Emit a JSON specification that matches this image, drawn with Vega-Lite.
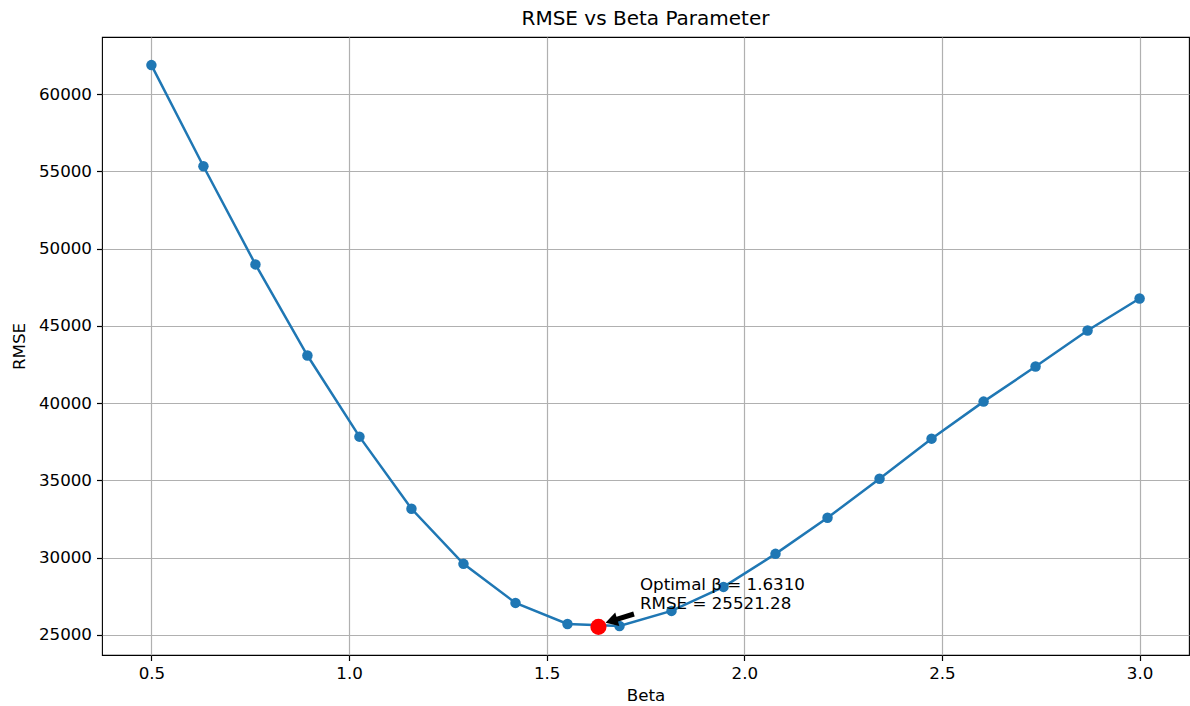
{
  "$schema": "https://vega.github.io/schema/vega-lite/v6.json",
  "width": 1087,
  "height": 618,
  "autosize": {"type": "none"},
  "padding": {"left": 102, "top": 37, "right": 1, "bottom": 51},
  "background": "white",
  "title": {"text": "RMSE vs Beta Parameter", "fontSize": 20, "fontWeight": "normal", "font": "DejaVu Sans", "color": "#000", "offset": 8},
  "config": {
    "view": {"stroke": "#000", "strokeWidth": 1.1},
    "axis": {
      "domain": false,
      "labelFont": "DejaVu Sans", "labelFontSize": 16.7, "labelColor": "#000",
      "titleFont": "DejaVu Sans", "titleFontSize": 16.7, "titleFontWeight": "normal", "titleColor": "#000",
      "tickColor": "#000", "tickSize": 5.5, "tickWidth": 1.2, "labelPadding": 5,
      "gridColor": "#b0b0b0", "gridWidth": 1.2, "gridOpacity": 1
    }
  },
  "datasets": {
    "curve": [
      {"x": 0.5, "y": 61881},
      {"x": 0.6316, "y": 55334},
      {"x": 0.7632, "y": 48982},
      {"x": 0.8947, "y": 43084},
      {"x": 1.0263, "y": 37834},
      {"x": 1.1579, "y": 33167},
      {"x": 1.2895, "y": 29602},
      {"x": 1.4211, "y": 27074},
      {"x": 1.5526, "y": 25713},
      {"x": 1.6842, "y": 25583},
      {"x": 1.8158, "y": 26556},
      {"x": 1.9474, "y": 28111},
      {"x": 2.0789, "y": 30250},
      {"x": 2.2105, "y": 32583},
      {"x": 2.3421, "y": 35111},
      {"x": 2.4737, "y": 37704},
      {"x": 2.6053, "y": 40102},
      {"x": 2.7368, "y": 42371},
      {"x": 2.8684, "y": 44704},
      {"x": 3.0, "y": 46778}
    ],
    "best": [{"x": 1.631, "y": 25521.28}],
    "arrow": [{"x": 1.7208, "y": 26356, "x2": 1.6687, "y2": 25942}],
    "head": [{"x": 1.6687, "y": 25942}],
    "annot": [
      {"x": 1.736, "y": 28233, "label": "Optimal β = 1.6310"},
      {"x": 1.736, "y": 27004, "label": "RMSE = 25521.28"}
    ]
  },
  "encoding": {
    "x": {
      "field": "x", "type": "quantitative",
      "scale": {"domain": [0.375, 3.125], "nice": false, "zero": false},
      "axis": {"values": [0.5, 1.0, 1.5, 2.0, 2.5, 3.0], "format": ".1f", "title": "Beta", "titlePadding": 5}
    },
    "y": {
      "field": "y", "type": "quantitative",
      "scale": {"domain": [23703, 63699], "nice": false, "zero": false},
      "axis": {"values": [25000, 30000, 35000, 40000, 45000, 50000, 55000, 60000], "format": "d", "title": "RMSE", "titlePadding": 10}
    }
  },
  "layer": [
    {"data": {"name": "curve"}, "mark": {"type": "line", "color": "#1f77b4", "strokeWidth": 2.5}},
    {"data": {"name": "curve"}, "mark": {"type": "point", "filled": true, "color": "#1f77b4", "opacity": 1, "size": 110}},
    {"data": {"name": "best"}, "mark": {"type": "point", "filled": true, "color": "#ff0000", "opacity": 1, "size": 260}},
    {"data": {"name": "arrow"}, "mark": {"type": "rule", "color": "#000", "strokeWidth": 5}, "encoding": {"x2": {"field": "x2"}, "y2": {"field": "y2"}}},
    {"data": {"name": "head"}, "mark": {"type": "point", "shape": "triangle", "filled": true, "color": "#000", "opacity": 1, "size": 200, "angle": 253}},
    {"data": {"name": "annot"}, "mark": {"type": "text", "align": "left", "baseline": "middle", "font": "DejaVu Sans", "fontSize": 16.7, "color": "#000"}, "encoding": {"text": {"field": "label"}}}
  ]
}
